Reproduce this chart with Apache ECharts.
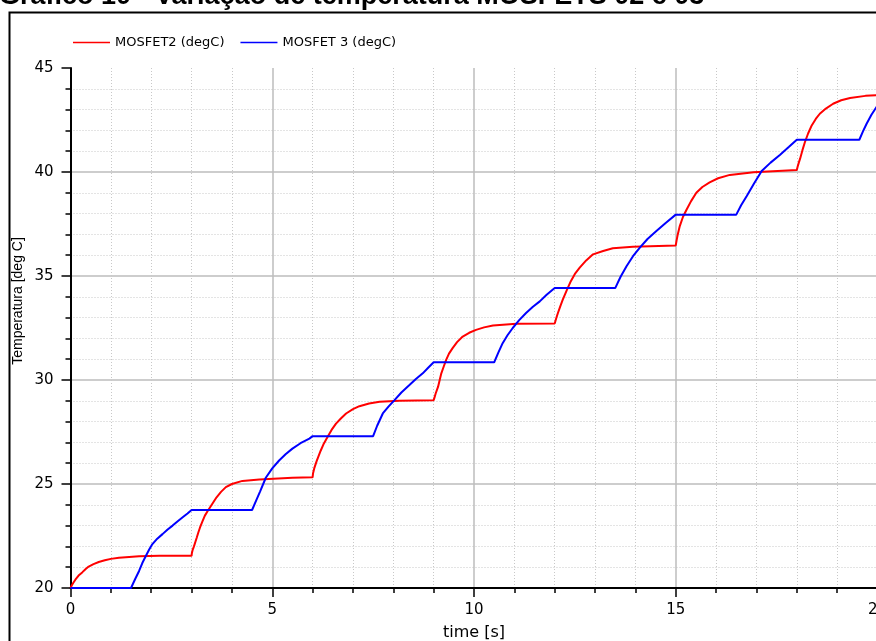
<!DOCTYPE html>
<html><head><meta charset="utf-8">
<script src="https://cdn.jsdelivr.net/npm/echarts@6/dist/echarts.min.js"></script>
<style>html,body{margin:0;padding:0;background:#fff;overflow:hidden}#c{width:876px;height:641px}</style>
</head><body><div id="c"></div>
<script>
const titleText = 'Gráfico 10 - Variação de temperatura MOSFETS 02 e 03';
const seriesNames = ['MOSFET2 (degC)', 'MOSFET 3 (degC)'];
const xAxisName = 'time [s]';
const yAxisName = 'Temperatura [deg C]';
const xTicks = [0, 5, 10, 15, 20];
const yTicks = [20, 25, 30, 35, 40, 45];

const mosfet2Time = [0, 0.03, 0.07, 0.12, 0.2, 0.29, 0.37, 0.45, 0.57, 0.7, 0.85, 1.0, 1.2, 1.37, 1.7, 2.2, 3.0,
  3.01, 3.03, 3.06, 3.1, 3.13, 3.17, 3.21, 3.27, 3.33, 3.4, 3.46, 3.54, 3.62, 3.73, 3.85, 4.0, 4.26, 4.68, 5.5, 6.0,
  6.01, 6.04, 6.1, 6.15, 6.2, 6.28, 6.37, 6.47, 6.58, 6.7, 6.83, 7.0, 7.16, 7.4, 7.66, 8.15, 9.0,
  9.02, 9.05, 9.11, 9.15, 9.19, 9.25, 9.31, 9.38, 9.47, 9.58, 9.72, 9.88, 10.05, 10.25, 10.47, 11.05, 12.0,
  12.02, 12.04, 12.08, 12.14, 12.2, 12.3, 12.4, 12.5, 12.62, 12.78, 12.95, 13.2, 13.44, 13.94, 15.0,
  15.02, 15.05, 15.1, 15.18, 15.27, 15.38, 15.51, 15.66, 15.84, 16.05, 16.34, 16.93, 18.0,
  18.02, 18.05, 18.08, 18.14, 18.2, 18.28, 18.37, 18.47, 18.57, 18.72, 18.9, 19.1, 19.32, 19.7, 20.0];
const mosfet2Temp = [20.0, 20.12, 20.25, 20.4, 20.6, 20.75, 20.9, 21.03, 21.15, 21.25, 21.33, 21.4, 21.45, 21.48, 21.53, 21.55, 21.55,
  21.7, 21.85, 22.0, 22.25, 22.43, 22.68, 22.91, 23.2, 23.48, 23.7, 23.88, 24.12, 24.36, 24.62, 24.85, 25.0, 25.15, 25.22, 25.3, 25.32,
  25.5, 25.75, 26.1, 26.35, 26.6, 26.95, 27.26, 27.6, 27.9, 28.15, 28.39, 28.6, 28.74, 28.87, 28.95, 29.0, 29.03,
  29.15, 29.35, 29.68, 30.0, 30.32, 30.65, 30.97, 31.27, 31.53, 31.82, 32.09, 32.27, 32.41, 32.53, 32.62, 32.7, 32.72,
  32.85, 32.98, 33.22, 33.55, 33.86, 34.32, 34.75, 35.1, 35.4, 35.75, 36.04, 36.2, 36.33, 36.41, 36.47,
  36.7, 37.0, 37.4, 37.85, 38.2, 38.6, 39.0, 39.28, 39.5, 39.7, 39.86, 39.99, 40.1,
  40.25, 40.45, 40.63, 41.05, 41.43, 41.85, 42.24, 42.55, 42.8, 43.05, 43.28, 43.45, 43.56, 43.66, 43.7];

const mosfet3Time = [0, 1.5, 1.6, 1.7, 1.78, 1.87, 1.95, 2.03, 2.15, 2.28, 2.4, 2.53, 2.65, 2.78, 2.9, 3.0, 4.5,
  4.6, 4.7, 4.84, 5.0, 5.17, 5.33, 5.5, 5.7, 5.92, 6.0, 7.5,
  7.6, 7.74, 7.88, 8.03, 8.2, 8.4, 8.56, 8.73, 8.87, 9.0, 10.5,
  10.6, 10.71, 10.83, 10.96, 11.12, 11.29, 11.46, 11.63, 11.8, 12.0, 13.5,
  13.63, 13.78, 13.94, 14.11, 14.3, 14.52, 14.75, 15.0, 16.5,
  16.62, 16.76, 16.94, 17.13, 17.35, 17.58, 17.8, 18.0, 19.55,
  19.64, 19.73, 19.85, 20.0];
const mosfet3Temp = [20.0, 20.0, 20.42, 20.82, 21.2, 21.55, 21.85, 22.11, 22.37, 22.59, 22.8, 23.0, 23.2, 23.4, 23.58, 23.75, 23.75,
  24.2, 24.65, 25.3, 25.75, 26.13, 26.43, 26.7, 26.96, 27.18, 27.3, 27.3,
  27.8, 28.39, 28.72, 29.03, 29.4, 29.76, 30.05, 30.32, 30.6, 30.85, 30.85,
  31.3, 31.77, 32.15, 32.5, 32.88, 33.22, 33.52, 33.78, 34.1, 34.42, 34.42,
  34.95, 35.47, 35.95, 36.36, 36.78, 37.16, 37.55, 37.95, 37.95,
  38.4, 38.85, 39.45, 40.05, 40.45, 40.82, 41.2, 41.55, 41.55,
  41.95, 42.32, 42.75, 43.2];

const zip = (a, b) => a.map((v, i) => [v, b[i]]);

const chart = echarts.init(document.getElementById('c'), null, {renderer: 'canvas'});
const axisFont = {fontFamily: 'DejaVu Sans', fontSize: 15, color: '#000'};

chart.setOption({
  animation: false,
  backgroundColor: '#fff',
  title: {
    text: titleText, left: -1, top: -17, padding: 0,
    textStyle: {fontFamily: 'Liberation Sans', fontWeight: 'bold', fontSize: 27, color: '#000'}
  },
  legend: {
    left: 73, top: 36, padding: 0, itemGap: 16, itemWidth: 37, itemHeight: 1.5,
    icon: 'rect',
    textStyle: {fontFamily: 'DejaVu Sans', fontSize: 13, color: '#000'},
    data: seriesNames
  },
  graphic: [{
    type: 'rect', silent: true, z: 100,
    shape: {x: 9.5, y: 12.5, width: 1000, height: 1000},
    style: {fill: 'none', stroke: '#000', lineWidth: 2}
  }],
  grid: {left: 70.5, top: 68, width: 807, height: 520, outerBoundsMode: 'none', containLabel: false},
  xAxis: {
    type: 'value', min: xTicks[0], max: xTicks[xTicks.length - 1], interval: 5,
    name: xAxisName, nameLocation: 'middle', nameGap: 37,
    nameTextStyle: {fontFamily: 'DejaVu Sans', fontSize: 16, color: '#000'},
    axisLine: {show: true, onZero: false, lineStyle: {color: '#000', width: 2}},
    axisTick: {show: true, length: 9, lineStyle: {color: '#000', width: 1.5}},
    minorTick: {show: true, splitNumber: 5, length: 5, lineStyle: {color: '#000', width: 1.5}},
    axisLabel: Object.assign({margin: 15, showMaxLabel: true}, axisFont),
    splitLine: {show: true, showMinLine: false, lineStyle: {color: '#bdbdbd', width: 1.5}},
    minorSplitLine: {show: true, lineStyle: {color: '#c8c8c8', width: 1, type: [1, 2]}}
  },
  yAxis: {
    type: 'value', min: yTicks[0], max: yTicks[yTicks.length - 1], interval: 5,
    name: yAxisName, nameLocation: 'middle', nameGap: 45, nameRotate: 90, nameMoveOverlap: false,
    nameTextStyle: {fontFamily: 'Liberation Sans', fontSize: 14, color: '#000', padding: [0, 0, 0, 54]},
    axisLine: {show: true, lineStyle: {color: '#000', width: 2}},
    axisTick: {show: true, length: 9, lineStyle: {color: '#000', width: 1.5}},
    minorTick: {show: true, splitNumber: 5, length: 5, lineStyle: {color: '#000', width: 1.5}},
    axisLabel: Object.assign({margin: 17}, axisFont),
    splitLine: {show: true, showMinLine: false, showMaxLine: false, lineStyle: {color: '#bdbdbd', width: 1.5}},
    minorSplitLine: {show: true, lineStyle: {color: '#c8c8c8', width: 1, type: [1, 2]}}
  },
  series: [
    {name: seriesNames[0], type: 'line', data: zip(mosfet2Time, mosfet2Temp), symbol: 'none',
     lineStyle: {color: '#ff0000', width: 2}, itemStyle: {color: '#ff0000'}, z: 3},
    {name: seriesNames[1], type: 'line', data: zip(mosfet3Time, mosfet3Temp), symbol: 'none',
     lineStyle: {color: '#0000ff', width: 2}, itemStyle: {color: '#0000ff'}, z: 4}
  ]
});
</script></body></html>
